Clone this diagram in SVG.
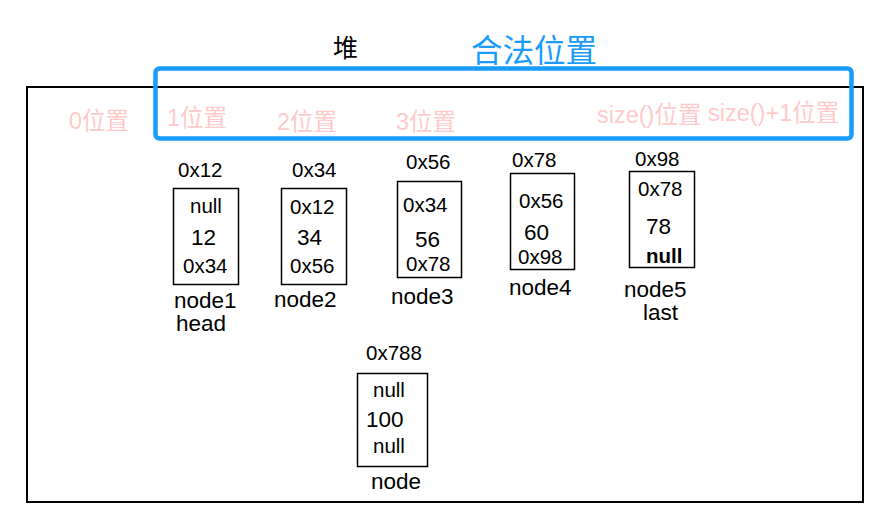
<svg xmlns="http://www.w3.org/2000/svg" width="889" height="532" viewBox="0 0 889 532">
<style>
text{font-family:"Liberation Sans","Noto Sans CJK SC",sans-serif;fill:#000}
.addr{font-size:20.5px}
.val{font-size:22.5px}
.lbl{font-size:22.5px}
.pos{font-size:23.5px;fill:#ffcaca}
.box{fill:#fff;stroke:#000;stroke-width:1.5}
</style>
<rect width="889" height="532" fill="#fff"/>
<g id="heap">
<rect x="27" y="87" width="836" height="415" fill="none" stroke="#000" stroke-width="2"/>
<text x="333" y="57" font-size="25">堆</text>
</g>
<g id="legal">
<rect x="155.5" y="68.5" width="696" height="70" rx="4" fill="none" stroke="#1a9cff" stroke-width="4.5"/>
<text x="471" y="62" font-size="31.5" style="fill:#1a9cff">合法位置</text>
</g>
<g id="positions">
<text class="pos" x="69" y="129">0位置</text>
<text class="pos" x="167" y="126">1位置</text>
<text class="pos" x="277" y="130">2位置</text>
<text class="pos" x="396" y="130">3位置</text>
<text class="pos" x="597" y="123">size()位置</text>
<text class="pos" x="708" y="121">size()+1位置</text>
</g>
<g id="node1">
<text class="addr" x="178" y="177">0x12</text>
<rect class="box" x="173.5" y="188.5" width="65" height="96"/>
<text class="addr" x="190" y="213">null</text>
<text class="val" x="191" y="245">12</text>
<text class="addr" x="183" y="273">0x34</text>
<text class="lbl" x="174" y="308">node1</text>
<text class="lbl" x="176" y="331">head</text>
</g>
<g id="node2">
<text class="addr" x="292" y="177">0x34</text>
<rect class="box" x="281.5" y="188.5" width="65" height="96"/>
<text class="addr" x="290" y="214">0x12</text>
<text class="val" x="297" y="245">34</text>
<text class="addr" x="290" y="273">0x56</text>
<text class="lbl" x="274" y="307">node2</text>
</g>
<g id="node3">
<text class="addr" x="406" y="169">0x56</text>
<rect class="box" x="397.5" y="181.5" width="64" height="96"/>
<text class="addr" x="403" y="212">0x34</text>
<text class="val" x="415" y="247">56</text>
<text class="addr" x="406" y="271">0x78</text>
<text class="lbl" x="391" y="304">node3</text>
</g>
<g id="node4">
<text class="addr" x="512" y="167">0x78</text>
<rect class="box" x="510.5" y="173.5" width="64" height="96"/>
<text class="addr" x="519" y="208">0x56</text>
<text class="val" x="524" y="240">60</text>
<text class="addr" x="518" y="264">0x98</text>
<text class="lbl" x="509" y="295">node4</text>
</g>
<g id="node5">
<text class="addr" x="635" y="166">0x98</text>
<rect class="box" x="629.5" y="171.5" width="65" height="96"/>
<text class="addr" x="638" y="196">0x78</text>
<text class="val" x="646" y="234">78</text>
<text class="addr" x="646" y="263" font-weight="bold">null</text>
<text class="lbl" x="624" y="297">node5</text>
<text class="lbl" x="643" y="320">last</text>
</g>
<g id="node">
<text class="addr" x="366" y="360">0x788</text>
<rect class="box" x="357.5" y="373.5" width="70" height="93"/>
<text class="addr" x="373" y="397">null</text>
<text class="val" x="366" y="427">100</text>
<text class="addr" x="373" y="453">null</text>
<text class="lbl" x="371" y="489">node</text>
</g>
<g id="connectors"/>
</svg>
